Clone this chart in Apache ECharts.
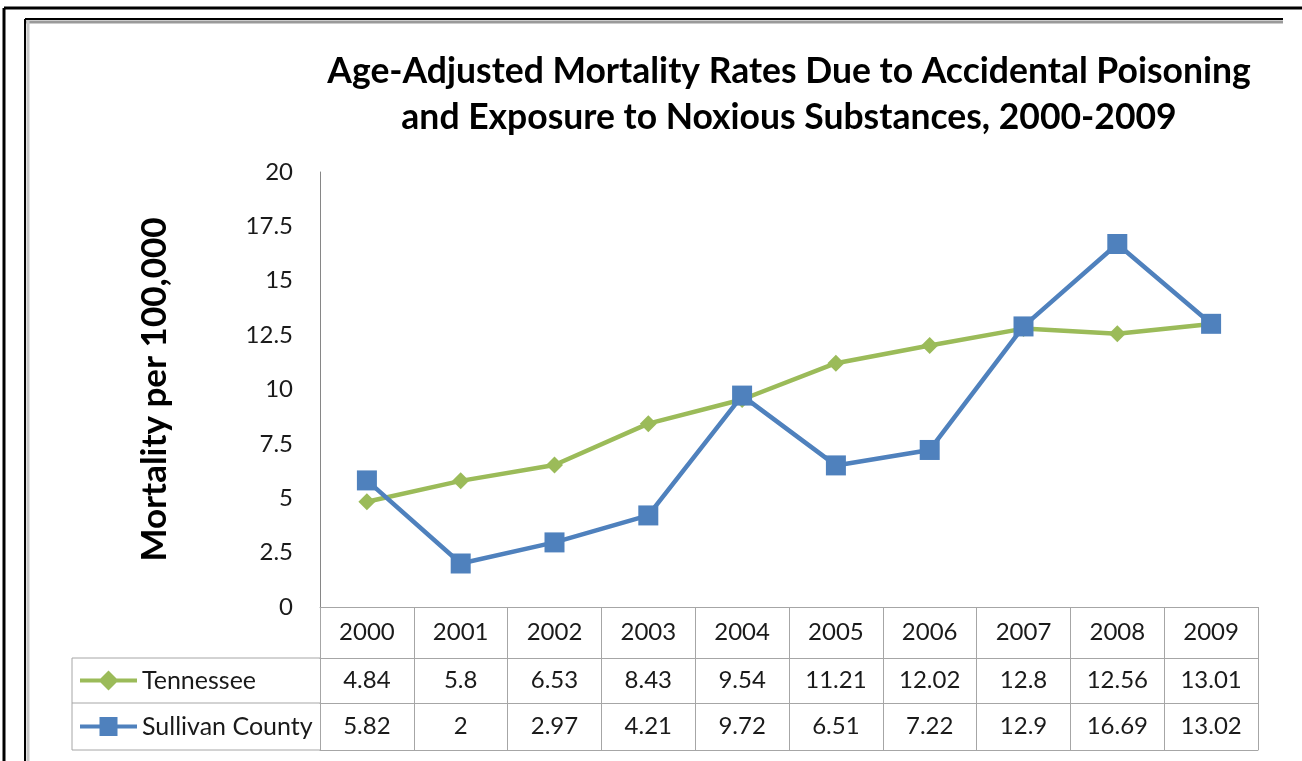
<!DOCTYPE html>
<html>
<head>
<meta charset="utf-8">
<title>Accidental Poisoning Mortality</title>
<script src="https://cdn.jsdelivr.net/npm/echarts@6/dist/echarts.min.js"></script>
<style>
  html, body { margin: 0; padding: 0; background: #fff; }
  #chart { width: 1302px; height: 761px; }
</style>
</head>
<body>
<div id="chart"></div>
<script>
// data
const years = ['2000', '2001', '2002', '2003', '2004', '2005', '2006', '2007', '2008', '2009'];
const tennessee = [4.84, 5.8, 6.53, 8.43, 9.54, 11.21, 12.02, 12.8, 12.56, 13.01];
const sullivan = [5.82, 2, 2.97, 4.21, 9.72, 6.51, 7.22, 12.9, 16.69, 13.02];
const seriesNames = ['Tennessee', 'Sullivan County'];
const yTicks = { min: 0, max: 20, step: 2.5 };

const titleText = 'Age-Adjusted Mortality Rates Due to Accidental Poisoning\nand Exposure to Noxious Substances, 2000-2009';
const yName = 'Mortality per 100,000';

// layout
const W = 1302, H = 761;
const plotLeft = 320, plotRight = 1258, plotTop = 172, plotBottom = 607;
const rowH = [51, 45, 47];       // header row, tennessee row, sullivan row
const legendColLeft = 72;
const font = 'Lato, "Open Sans", sans-serif';
const txt = '#1a1a1a';
const gridColor = '#a6a6a6';
const green = '#9BBB59', blue = '#4F81BD';

// legend keys drawn like the excel data table: thick line with the marker in the middle
const diamondKey = 'path://M0,8 H20.5 L28.5,0 L36.5,8 H57 V12 H36.5 L28.5,20 L20.5,12 H0 Z';
const squareKey = 'path://M0,7.5 H19.5 V0 H37.5 V7.5 H57 V11.5 H37.5 V19 H19.5 V11.5 H0 Z';

const row1 = plotBottom + rowH[0];
const row2 = row1 + rowH[1];
const row3 = row2 + rowH[2];

function tableAxis(offset, tickLen, labelFn, margin) {
  return {
    type: 'category',
    data: years,
    position: 'bottom',
    offset: offset,
    boundaryGap: true,
    axisLine: { show: true, lineStyle: { color: gridColor, width: 1 } },
    axisTick: { show: tickLen > 0, interval: 0, length: tickLen, lineStyle: { color: gridColor } },
    axisLabel: {
      show: !!labelFn,
      interval: 0,
      margin: margin || 0,
      color: txt,
      fontFamily: font,
      fontSize: 24,
      formatter: labelFn || undefined
    },
    splitLine: { show: false }
  };
}

function legendAt(name, icon, top, h) {
  return {
    data: [{ name: name, icon: icon }],
    left: legendColLeft + 8,
    top: top,
    padding: 0,
    itemWidth: 57,
    itemHeight: h,
    itemGap: 0,
    textStyle: { color: txt, fontFamily: font, fontSize: 25 }
  };
}

const chart = echarts.init(document.getElementById('chart'));

const option = {
  backgroundColor: '#fff',
  animation: false,
  grid: { left: plotLeft, right: W - plotRight, top: plotTop, bottom: H - plotBottom, containLabel: false },
  xAxis: [
    tableAxis(0, rowH[0], (v) => v, 13),
    tableAxis(rowH[0], rowH[1], (v, i) => String(tennessee[i]), 10),
    tableAxis(rowH[0] + rowH[1], rowH[2], (v, i) => String(sullivan[i]), 11),
    tableAxis(rowH[0] + rowH[1] + rowH[2], 0, null, 0)
  ],
  yAxis: {
    type: 'value',
    min: yTicks.min,
    max: yTicks.max,
    interval: yTicks.step,
    name: yName,
    nameLocation: 'middle',
    nameRotate: 90,
    nameGap: 148,
    nameTextStyle: { color: '#000', fontFamily: font, fontWeight: 'bold', fontSize: 35 },
    axisLine: { show: true, lineStyle: { color: '#868686', width: 1 } },
    axisTick: { show: false },
    splitLine: { show: false },
    axisLabel: { color: txt, fontFamily: font, fontSize: 24, margin: 27 }
  },
  legend: [
    legendAt(seriesNames[0], diamondKey, row1 + 10, 20),
    legendAt(seriesNames[1], squareKey, row2 + 11, 19)
  ],
  series: [
    {
      name: seriesNames[0],
      type: 'line',
      data: tennessee,
      symbol: 'diamond',
      symbolSize: 17,
      lineStyle: { color: green, width: 4.5 },
      itemStyle: { color: green }
    },
    {
      name: seriesNames[1],
      type: 'line',
      data: sullivan,
      symbol: 'rect',
      symbolSize: 20,
      lineStyle: { color: blue, width: 4.5 },
      itemStyle: { color: blue }
    }
  ],
  graphic: [
    // outer frame
    { type: 'line', shape: { x1: 4, y1: 8, x2: W, y2: 8 }, style: { stroke: '#000', lineWidth: 3 } },
    { type: 'line', shape: { x1: 4, y1: 8, x2: 4, y2: H }, style: { stroke: '#000', lineWidth: 3 } },
    // inner frame with shadow
    { type: 'line', shape: { x1: 26, y1: 22, x2: 1283, y2: 22 }, style: { stroke: '#9a9a9a', lineWidth: 3 } },
    { type: 'line', shape: { x1: 28, y1: 20, x2: 28, y2: H }, style: { stroke: '#c8c8c8', lineWidth: 3 } },
    { type: 'line', shape: { x1: 25, y1: 19, x2: 1283, y2: 19 }, style: { stroke: '#000', lineWidth: 2 } },
    { type: 'line', shape: { x1: 25, y1: 19, x2: 25, y2: H }, style: { stroke: '#000', lineWidth: 2 } },
    // title
    {
      type: 'text',
      x: 789,
      y: 49,
      style: {
        text: titleText,
        align: 'center',
        verticalAlign: 'top',
        fill: '#000',
        font: 'bold 35.5px ' + font,
        lineHeight: 46
      }
    },
    // legend column cell borders of the data table
    { type: 'line', shape: { x1: legendColLeft, y1: row1, x2: plotLeft, y2: row1 }, style: { stroke: gridColor, lineWidth: 1 } },
    { type: 'line', shape: { x1: legendColLeft, y1: row2, x2: plotLeft, y2: row2 }, style: { stroke: gridColor, lineWidth: 1 } },
    { type: 'line', shape: { x1: legendColLeft, y1: row3, x2: plotLeft, y2: row3 }, style: { stroke: gridColor, lineWidth: 1 } },
    { type: 'line', shape: { x1: legendColLeft, y1: row1, x2: legendColLeft, y2: row3 }, style: { stroke: gridColor, lineWidth: 1 } }
  ]
};

chart.setOption(option);
</script>
</body>
</html>
